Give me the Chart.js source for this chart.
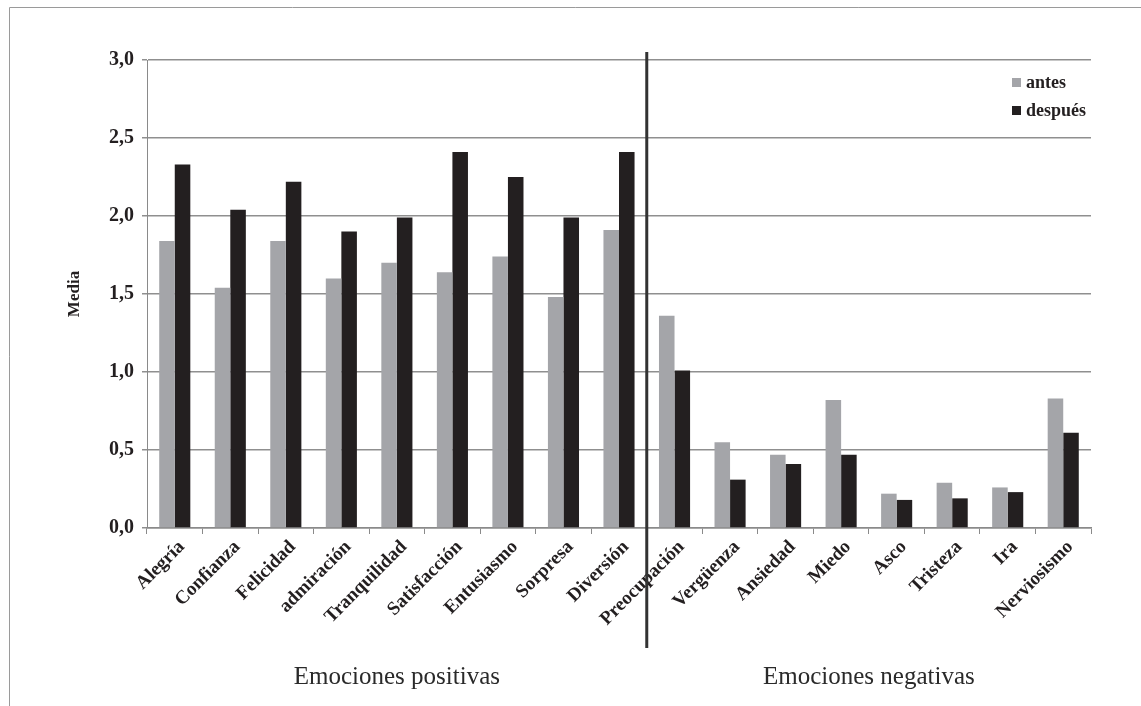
<!DOCTYPE html>
<html>
<head>
<meta charset="utf-8">
<script src="https://cdn.jsdelivr.net/npm/chart.js@4.4.1/dist/chart.umd.min.js"></script>
<style>
  html, body { margin: 0; padding: 0; background: #ffffff; }
  #wrap { position: relative; width: 1141px; height: 706px; }
</style>
</head>
<body>
<div id="wrap"><canvas id="c" width="1141" height="706"></canvas></div>
<script>
// ---- data ----
const categories = ['Alegría','Confianza','Felicidad','admiración','Tranquilidad','Satisfacción','Entusiasmo','Sorpresa','Diversión',
                    'Preocupación','Vergüenza','Ansiedad','Miedo','Asco','Tristeza','Ira','Nerviosismo'];
const antes   = [1.84, 1.54, 1.84, 1.60, 1.70, 1.64, 1.74, 1.48, 1.91,
                 1.36, 0.55, 0.47, 0.82, 0.22, 0.29, 0.26, 0.83];
const despues = [2.33, 2.04, 2.22, 1.90, 1.99, 2.41, 2.25, 1.99, 2.41,
                 1.01, 0.31, 0.41, 0.47, 0.18, 0.19, 0.23, 0.61];
const seriesNames = ['antes', 'después'];
const groupLabels = ['Emociones positivas', 'Emociones negativas'];
const groupSizes = [9, 8];
const yTickValues = [0, 0.5, 1, 1.5, 2, 2.5, 3];
const yTitle = 'Media';

const GRAY = '#a4a5a9';
const BLACK = '#231f20';
const SERIF = '"Liberation Serif", "DejaVu Serif", serif';

const decorPlugin = {
  id: 'decor',
  beforeDraw(chart) {
    const ctx = chart.ctx;
    ctx.save();
    ctx.fillStyle = '#ffffff';
    ctx.fillRect(0, 0, chart.width, chart.height);
    // frame (top and left)
    ctx.strokeStyle = '#9a9a9a';
    ctx.lineWidth = 1;
    ctx.beginPath();
    ctx.moveTo(9.5, chart.height);
    ctx.lineTo(9.5, 7.5);
    ctx.lineTo(chart.width, 7.5);
    ctx.stroke();
    ctx.restore();
  },
  afterDraw(chart) {
    const ctx = chart.ctx;
    const x = chart.scales.x;
    const area = chart.chartArea;
    ctx.save();
    // divider between groups
    const bIdx = groupSizes[0];
    const divX = (x.getPixelForValue(bIdx - 1) + x.getPixelForValue(bIdx)) / 2;
    ctx.strokeStyle = '#333333';
    ctx.lineWidth = 3;
    ctx.beginPath();
    ctx.moveTo(divX, area.top - 8);
    ctx.lineTo(divX, area.bottom + 120);
    ctx.stroke();
    // group titles
    ctx.fillStyle = '#2a2a2a';
    ctx.font = '25px ' + SERIF;
    ctx.textAlign = 'center';
    ctx.textBaseline = 'middle';
    let start = 0;
    groupSizes.forEach((n, gi) => {
      const half = (x.getPixelForValue(1) - x.getPixelForValue(0)) / 2;
      const l = x.getPixelForValue(start) - half;
      const r = x.getPixelForValue(start + n - 1) + half;
      ctx.fillText(groupLabels[gi], (l + r) / 2, area.bottom + 149);
      start += n;
    });
    // legend
    const colors = [GRAY, BLACK];
    ctx.font = 'bold 18px ' + SERIF;
    ctx.textAlign = 'left';
    seriesNames.forEach((name, i) => {
      const yy = area.top + 23 + i * 28;
      const lx = area.right - 79;
      ctx.fillStyle = colors[i];
      ctx.fillRect(lx, yy - 5, 9, 9);
      ctx.fillStyle = '#231f20';
      ctx.fillText(name, lx + 14, yy);
    });
    ctx.restore();
  }
};

new Chart(document.getElementById('c'), {
  type: 'bar',
  data: {
    labels: categories,
    datasets: [
      { label: seriesNames[0], data: antes, backgroundColor: GRAY, borderWidth: 0 },
      { label: seriesNames[1], data: despues, backgroundColor: BLACK, borderWidth: 0 }
    ]
  },
  options: {
    responsive: false,
    animation: false,
    devicePixelRatio: 1,
    layout: { padding: { top: 60, right: 50, left: 0, bottom: 0 } },
    datasets: { bar: { barPercentage: 1.0, categoryPercentage: 0.56 } },
    plugins: {
      legend: { display: false },
      tooltip: { enabled: false }
    },
    scales: {
      x: {
        grid: { display: true, drawOnChartArea: false, drawTicks: true, tickLength: 6, color: '#8a8a8a', offset: true },
        border: { display: true, color: '#8a8a8a', width: 1.5 },
        ticks: {
          color: '#231f20',
          font: { family: SERIF, size: 19, weight: 'bold' },
          minRotation: 45, maxRotation: 45, autoSkip: false, padding: 2, labelOffset: 7
        },
        afterFit(s) { s.height = 178; }
      },
      y: {
        min: 0, max: 3,
        afterBuildTicks(s) { s.ticks = yTickValues.map(v => ({ value: v })); },
        grid: { color: '#8f8f8f', lineWidth: 1.5, drawTicks: true, tickLength: 5 },
        border: { display: true, color: '#8a8a8a', width: 1 },
        ticks: {
          color: '#231f20',
          padding: 8,
          font: { family: SERIF, size: 20, weight: 'bold' },
          callback: (v) => Number(v).toFixed(1).replace('.', ',')
        },
        title: {
          display: true, text: yTitle, color: '#231f20',
          font: { family: SERIF, size: 17, weight: 'bold' },
          padding: { top: 64, bottom: 0 }
        },
        afterFit(s) { s.width = 147; }
      }
    }
  },
  plugins: [decorPlugin]
});
</script>
</body>
</html>
